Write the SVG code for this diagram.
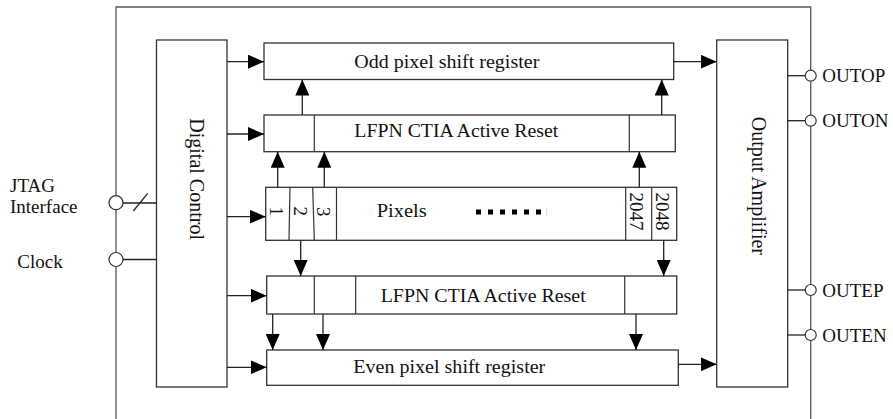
<svg xmlns="http://www.w3.org/2000/svg" width="893" height="419" viewBox="0 0 893 419">
<defs>
<style>
.box{fill:#fff;stroke:#333;stroke-width:1.3}
.div{fill:none;stroke:#333;stroke-width:1.2}
.ln{fill:none;stroke:#222;stroke-width:1.3}
.outer{fill:none;stroke:#555;stroke-width:1.3}
.pin{fill:#fff;stroke:#333;stroke-width:1.2}
.t{font-family:"Liberation Serif","Times New Roman",serif;font-size:19.5px;fill:#111}
.v{font-family:"Liberation Serif","Times New Roman",serif;font-size:20px;fill:#111}
.d{font-family:"Liberation Serif","Times New Roman",serif;font-size:19px;fill:#111}
</style>
<marker id="ah" viewBox="0 0 16 14" refX="16" refY="7" markerWidth="16" markerHeight="14" markerUnits="userSpaceOnUse" orient="auto">
<path d="M0,0 L16,7 L0,14 Z" fill="#000"/>
</marker>
</defs>
<rect width="893" height="419" fill="#fff"/>

<g id="chip-boundary">
<path class="outer" d="M116,419 V7 H810.7 V419"/>
</g>

<g id="digital-control">
<rect class="box" x="156.5" y="40" width="70.5" height="347"/>
<text class="v" transform="translate(190,118.3) rotate(90)">Digital Control</text>
</g>

<g id="output-amplifier">
<rect class="box" x="716.7" y="40" width="71" height="347"/>
<text class="v" transform="translate(751.5,116.7) rotate(90)">Output Amplifier</text>
</g>

<g id="odd-shift-register">
<rect class="box" x="264" y="43" width="409.7" height="36.5"/>
<text class="t" x="354.3" y="67.6" textLength="185" lengthAdjust="spacingAndGlyphs">Odd pixel shift register</text>
</g>

<g id="lfpn-top">
<rect class="box" x="264" y="115" width="411.3" height="36.7"/>
<line class="div" x1="314.3" y1="115" x2="314.3" y2="151.7"/>
<line class="div" x1="629.3" y1="115" x2="629.3" y2="151.7"/>
<text class="t" x="354.3" y="137.3" textLength="204" lengthAdjust="spacingAndGlyphs">LFPN CTIA Active Reset</text>
</g>

<g id="pixels">
<rect class="box" x="265.7" y="187.3" width="411" height="53"/>
<line class="div" x1="290" y1="187.3" x2="289" y2="240.3"/>
<line class="div" x1="312.7" y1="187.3" x2="314.3" y2="240.3"/>
<line class="div" x1="336.5" y1="187.3" x2="336.5" y2="240.3"/>
<line class="div" x1="625.7" y1="187.3" x2="625.7" y2="240.3"/>
<line class="div" x1="651.7" y1="187.3" x2="651.7" y2="240.3"/>
<text class="d" transform="translate(269.5,206.5) rotate(90)">1</text>
<text class="d" transform="translate(293.5,206.5) rotate(90)">2</text>
<text class="d" transform="translate(317,207) rotate(90)">3</text>
<text class="t" x="376.7" y="217.3" textLength="50" lengthAdjust="spacingAndGlyphs">Pixels</text>
<g fill="#000">
<rect x="476" y="209.5" width="5" height="5"/>
<rect x="488" y="209.5" width="5" height="5"/>
<rect x="500" y="209.5" width="5" height="5"/>
<rect x="512" y="209.5" width="5" height="5"/>
<rect x="524" y="209.5" width="5" height="5"/>
<rect x="536" y="209.5" width="5" height="5"/>
</g>
<line x1="546.7" y1="208.5" x2="546.7" y2="215.5" stroke="#ccc" stroke-width="0.8"/>
<text class="d" transform="translate(630,192.5) rotate(90)">2047</text>
<text class="d" transform="translate(656,192.5) rotate(90)">2048</text>
</g>

<g id="lfpn-bottom">
<rect class="box" x="266.7" y="276" width="410" height="38"/>
<line class="div" x1="314.3" y1="276" x2="314.3" y2="314"/>
<line class="div" x1="355.7" y1="276" x2="355.7" y2="314"/>
<line class="div" x1="624.7" y1="276" x2="624.7" y2="314"/>
<text class="t" x="380.7" y="301.7" textLength="205" lengthAdjust="spacingAndGlyphs">LFPN CTIA Active Reset</text>
</g>

<g id="even-shift-register">
<rect class="box" x="266.7" y="350" width="411.6" height="35.3"/>
<text class="t" x="353.3" y="373.3" textLength="192" lengthAdjust="spacingAndGlyphs">Even pixel shift register</text>
</g>

<g id="pin-jtag">
<circle class="pin" cx="116" cy="202.7" r="7"/>
<text class="d" x="10" y="191.7">JTAG</text>
<text class="d" x="10" y="213.3">Interface</text>
</g>
<g id="pin-clock">
<circle class="pin" cx="116" cy="259.5" r="7"/>
<text class="d" x="17.3" y="268.3">Clock</text>
</g>
<g id="pin-outop">
<circle class="pin" cx="810.7" cy="75.7" r="5.5"/>
<text class="d" x="822.3" y="81.7">OUTOP</text>
</g>
<g id="pin-outon">
<circle class="pin" cx="810.7" cy="120.7" r="5.5"/>
<text class="d" x="822.3" y="126.7">OUTON</text>
</g>
<g id="pin-outep">
<circle class="pin" cx="810.7" cy="290" r="5.5"/>
<text class="d" x="822.3" y="296.7">OUTEP</text>
</g>
<g id="pin-outen">
<circle class="pin" cx="810.7" cy="335" r="5.5"/>
<text class="d" x="822.3" y="341.7">OUTEN</text>
</g>

<g id="connectors">
<!-- pins to digital control -->
<line class="ln" x1="123" y1="203" x2="156.5" y2="203"/>
<line class="ln" x1="133.3" y1="211" x2="147.7" y2="193.3"/>
<line class="ln" x1="123" y1="259.5" x2="156.5" y2="259.5"/>
<!-- digital control to rows -->
<line class="ln" x1="227" y1="61.7" x2="264" y2="61.7" marker-end="url(#ah)"/>
<line class="ln" x1="227" y1="134" x2="264" y2="134" marker-end="url(#ah)"/>
<line class="ln" x1="227" y1="216.7" x2="265.7" y2="216.7" marker-end="url(#ah)"/>
<line class="ln" x1="227" y1="295.7" x2="266.7" y2="295.7" marker-end="url(#ah)"/>
<line class="ln" x1="227" y1="367.3" x2="266.7" y2="367.3" marker-end="url(#ah)"/>
<!-- shift registers to output amplifier -->
<line class="ln" x1="673.7" y1="61.7" x2="716.7" y2="61.7" marker-end="url(#ah)"/>
<line class="ln" x1="678.3" y1="364.3" x2="716.7" y2="364.3" marker-end="url(#ah)"/>
<!-- top LFPN to odd register -->
<line class="ln" x1="302.3" y1="115" x2="302.3" y2="79.5" marker-end="url(#ah)"/>
<line class="ln" x1="661.7" y1="115" x2="661.7" y2="79.5" marker-end="url(#ah)"/>
<!-- pixels to top LFPN -->
<line class="ln" x1="277.7" y1="187.3" x2="277.7" y2="151.7" marker-end="url(#ah)"/>
<line class="ln" x1="324.3" y1="187.3" x2="324.3" y2="151.7" marker-end="url(#ah)"/>
<line class="ln" x1="639.3" y1="187.3" x2="639.3" y2="151.7" marker-end="url(#ah)"/>
<!-- pixels to bottom LFPN -->
<line class="ln" x1="300.7" y1="240.3" x2="300.7" y2="276" marker-end="url(#ah)"/>
<line class="ln" x1="663.7" y1="240.3" x2="663.7" y2="276" marker-end="url(#ah)"/>
<!-- bottom LFPN to even register -->
<line class="ln" x1="272.7" y1="314" x2="272.7" y2="350" marker-end="url(#ah)"/>
<line class="ln" x1="323" y1="314" x2="323" y2="350" marker-end="url(#ah)"/>
<line class="ln" x1="636" y1="314" x2="636" y2="350" marker-end="url(#ah)"/>
<!-- output amplifier to pins -->
<line class="ln" x1="787.7" y1="75.7" x2="805.2" y2="75.7"/>
<line class="ln" x1="787.7" y1="120.7" x2="805.2" y2="120.7"/>
<line class="ln" x1="787.7" y1="290" x2="805.2" y2="290"/>
<line class="ln" x1="787.7" y1="335" x2="805.2" y2="335"/>
</g>
</svg>
